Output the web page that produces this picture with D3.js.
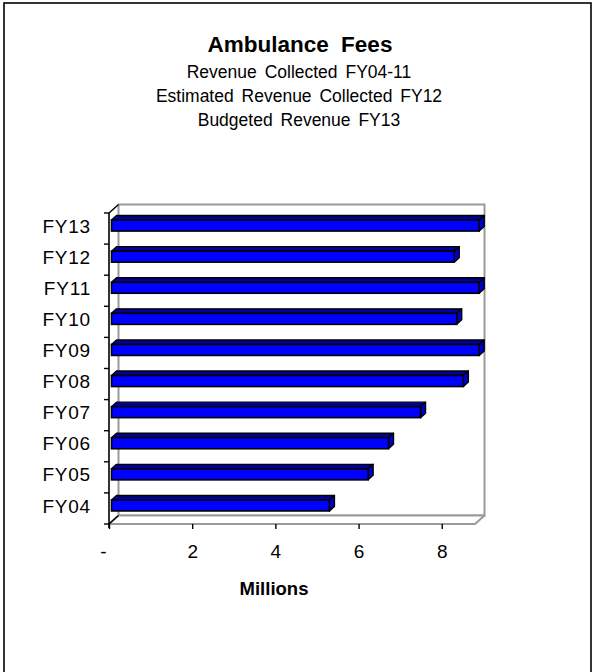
<!DOCTYPE html>
<html>
<head>
<meta charset="utf-8">
<script src="https://cdn.jsdelivr.net/npm/d3@7"></script>
<style>
  html, body { margin: 0; padding: 0; background: #fff; }
  svg text { font-family: "Liberation Sans", Arial, sans-serif; fill: #000; }
</style>
</head>
<body>
<svg id="chart" width="600" height="672"></svg>
<script>
// Fiscal years, bottom to top
const categories = ["FY04", "FY05", "FY06", "FY07", "FY08", "FY09", "FY10", "FY11", "FY12", "FY13"];
// Ambulance fee revenue, millions of dollars
const revenue = [5.24, 6.17, 6.66, 7.43, 8.46, 8.84, 8.30, 8.84, 8.24, 8.84];
// Value axis ticks
const xTicks = [0, 2, 4, 6, 8];
const xMax = 8.8;
// Title block
const titleText = "Ambulance Fees";
const subtitleLines = [
  "Revenue Collected FY04-11",
  "Estimated Revenue Collected FY12",
  "Budgeted Revenue FY13"
];
const axisTitle = "Millions";

const svg = d3.select("#chart");

// frame around the chart area
svg.append("rect")
  .attr("x", 4).attr("y", 3).attr("width", 587).attr("height", 720)
  .attr("fill", "none").attr("stroke", "#000").attr("stroke-width", 1.6);

// titles
svg.append("text")
  .attr("x", 300).attr("y", 52)
  .attr("text-anchor", "middle")
  .style("font-size", "22.5px").style("font-weight", "bold")
  .style("word-spacing", "6px")
  .text(titleText);

svg.selectAll("text.sub")
  .data(subtitleLines)
  .join("text")
  .attr("class", "sub")
  .attr("x", 299)
  .attr("y", (d, i) => 78 + i * 24)
  .attr("text-anchor", "middle")
  .style("font-size", "17.5px")
  .style("word-spacing", "3px")
  .text(d => d);

// 3-D plot geometry: front plane and depth offset of the back wall
const front = { left: 109, right: 475, top: 213, bottom: 524 };
const depth = { dx: 9.5, dy: -8.5 };

const x = d3.scaleLinear().domain([0, xMax]).range([front.left, front.right]);
const y = d3.scaleBand()
  .domain(categories.slice().reverse())
  .range([front.top, front.bottom])
  .paddingInner(0).paddingOuter(0);

const wallStroke = "#9a9a9a";

// back wall
svg.append("rect")
  .attr("x", front.left + depth.dx).attr("y", front.top + depth.dy)
  .attr("width", front.right - front.left)
  .attr("height", front.bottom - front.top)
  .attr("fill", "#fff").attr("stroke", wallStroke).attr("stroke-width", 2);

// floor
svg.append("polygon")
  .attr("points", [
    [front.left, front.bottom],
    [front.right, front.bottom],
    [front.right + depth.dx, front.bottom + depth.dy],
    [front.left + depth.dx, front.bottom + depth.dy]
  ].map(p => p.join(",")).join(" "))
  .attr("fill", "#fff").attr("stroke", wallStroke).attr("stroke-width", 2)
  .attr("stroke-linejoin", "round");

// side wall edges
svg.append("path")
  .attr("d", `M${front.left},${front.top}L${front.left + depth.dx},${front.top + depth.dy}` +
             `M${front.left},${front.bottom}L${front.left + depth.dx},${front.bottom + depth.dy}`)
  .attr("stroke", "#000").attr("stroke-width", 1.4).attr("fill", "none");

// bars
const barH = 11;
const barOff = { dx: 2.5, dy: -3 };
const barDepth = { dx: 5, dy: -4.5 };
const rows = categories.map((c, i) => ({ cat: c, value: revenue[i] }));

const bars = svg.append("g").attr("class", "bars")
  .selectAll("g")
  .data(rows)
  .join("g");

const geom = d => {
  const xs = x(0) + barOff.dx;
  const xe = x(d.value) + barOff.dx;
  const yt = y(d.cat) + (y.bandwidth() - barH) / 2 + barOff.dy;
  return { xs, xe, yt, yb: yt + barH };
};
const pts = arr => arr.map(p => p.join(",")).join(" ");

bars.append("polygon")
  .attr("points", d => {
    const g = geom(d);
    return pts([[g.xs, g.yt], [g.xe, g.yt], [g.xe + barDepth.dx, g.yt + barDepth.dy], [g.xs + barDepth.dx, g.yt + barDepth.dy]]);
  })
  .attr("fill", "#00009a").attr("stroke", "#000").attr("stroke-width", 1.4)
  .attr("stroke-linejoin", "round");

bars.append("polygon")
  .attr("points", d => {
    const g = geom(d);
    return pts([[g.xe, g.yt], [g.xe + barDepth.dx, g.yt + barDepth.dy], [g.xe + barDepth.dx, g.yb + barDepth.dy], [g.xe, g.yb]]);
  })
  .attr("fill", "#0000c8").attr("stroke", "#000").attr("stroke-width", 1.4)
  .attr("stroke-linejoin", "round");

bars.append("rect")
  .attr("x", d => geom(d).xs)
  .attr("y", d => geom(d).yt)
  .attr("width", d => geom(d).xe - geom(d).xs)
  .attr("height", barH)
  .attr("fill", "#0000ff").attr("stroke", "#000").attr("stroke-width", 1.6);

// category axis
const yAxis = svg.append("g")
  .attr("transform", `translate(${front.left},${barOff.dy + 1})`)
  .call(d3.axisLeft(y).tickSize(0).tickPadding(18));
yAxis.select(".domain").remove();
yAxis.selectAll("text")
  .style("font-size", "19px")
  .style("letter-spacing", "0.8px")
  .attr("font-family", null);

svg.append("line")
  .attr("x1", front.left).attr("x2", front.left)
  .attr("y1", front.top).attr("y2", front.bottom + 4)
  .attr("stroke", "#000").attr("stroke-width", 1.6);

const boundaries = y.domain().map(c => y(c)).concat([front.bottom]);
svg.append("g").selectAll("line")
  .data(boundaries)
  .join("line")
  .attr("x1", front.left - 5).attr("x2", front.left)
  .attr("y1", d => d).attr("y2", d => d)
  .attr("stroke", "#000").attr("stroke-width", 1.4);

// value axis
const xAxis = svg.append("g")
  .attr("transform", `translate(0,${front.bottom})`)
  .call(d3.axisBottom(x)
    .tickValues(xTicks)
    .tickSize(5)
    .tickPadding(16)
    .tickFormat(v => v === 0 ? "-" : d3.format("d")(v)));
xAxis.select(".domain").remove();
xAxis.selectAll(".tick line").attr("stroke", "#000").attr("stroke-width", 1.4);
xAxis.selectAll("text")
  .style("font-size", "19px")
  .attr("font-family", null)
  .attr("dx", v => v === 0 ? -6 : 0);

svg.append("text")
  .attr("x", 274).attr("y", 595)
  .attr("text-anchor", "middle")
  .style("font-size", "18.5px").style("font-weight", "bold")
  .text(axisTitle);
</script>
</body>
</html>
